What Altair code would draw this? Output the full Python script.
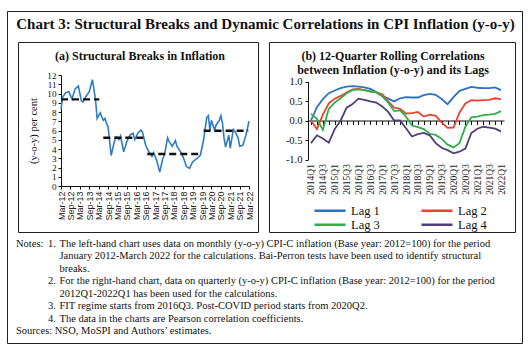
import altair as alt
import pandas as pd

SERIF = "Liberation Serif"
SANS = "Liberation Sans"

# ---------------- Panel (a): monthly CPI-C inflation (y-o-y, per cent) ----------------
infl_month = [
    "2012/03/01", "2012/04/01", "2012/06/01", "2012/08/01", "2012/10/01", "2012/12/01",
    "2013/02/01", "2013/04/01", "2013/05/01", "2013/07/01", "2013/09/01", "2013/11/01",
    "2014/01/01", "2014/02/01", "2014/04/01", "2014/06/01", "2014/07/01", "2014/08/01",
    "2014/09/01", "2014/11/01", "2015/01/01", "2015/02/01", "2015/04/01", "2015/05/01",
    "2015/07/01", "2015/09/01", "2015/11/01", "2016/01/01", "2016/02/01", "2016/04/01",
    "2016/06/01", "2016/07/01", "2016/09/01", "2016/11/01", "2017/01/01", "2017/02/01",
    "2017/04/01", "2017/06/01", "2017/08/01", "2017/09/01", "2017/11/01", "2017/12/01",
    "2018/02/01", "2018/04/01", "2018/05/01", "2018/08/01", "2018/09/01", "2018/11/01",
    "2019/01/01", "2019/03/01", "2019/06/01", "2019/08/01", "2019/10/01", "2019/12/01",
    "2020/01/01", "2020/02/01", "2020/03/01", "2020/05/01", "2020/06/01", "2020/08/01",
    "2020/09/01", "2020/10/01", "2020/11/01", "2020/12/01", "2021/02/01", "2021/03/01",
    "2021/05/01", "2021/06/01", "2021/08/01", "2021/09/01", "2021/11/01", "2022/01/01",
    "2022/03/01",
]
infl_value = [
    8.3, 9.6, 10.1, 10.2, 9.4, 10.5,
    10.8, 9.2, 9.1, 9.7, 10.2, 11.5,
    9.3, 7.3, 7.9, 7.1, 7.3, 6.8,
    6.4, 3.3, 4.8, 5.3, 5.0, 5.4,
    3.7, 4.8, 5.5, 5.7, 5.0, 5.7,
    6.05, 5.8, 4.4, 3.7, 3.2, 3.6,
    2.8, 1.5, 3.0, 3.35, 5.2, 4.8,
    4.3, 4.9, 4.3, 3.5, 3.1, 2.1,
    1.9, 2.6, 3.0, 3.35, 5.0, 7.4,
    7.6, 6.05, 7.1, 6.05, 6.6, 7.1,
    7.6, 6.8, 5.2, 4.2, 5.5, 4.1,
    6.1, 5.9, 5.2, 4.3, 4.4, 5.5,
    7.0,
]
break_start = ["2012/03/01", "2014/06/01", "2016/10/01", "2019/10/01"]
break_end = ["2014/03/15", "2016/09/01", "2019/09/01", "2022/02/15"]
break_level = [9.37, 5.22, 3.46, 5.98]
tick_months = [
    "2012/03", "2012/09", "2013/03", "2013/09", "2014/03", "2014/09", "2015/03",
    "2015/09", "2016/03", "2016/09", "2017/03", "2017/09", "2018/03", "2018/09",
    "2019/03", "2019/09", "2020/03", "2020/09", "2021/03", "2021/09", "2022/03",
]
y_a_ticks = [0, 1, 2, 3, 4, 5, 6, 7, 8, 9, 10, 11, 12]

# ---------------- Panel (b): 12-quarter rolling correlations ----------------
quarters = [
    "2014Q1", "2014Q2", "2014Q3", "2014Q4", "2015Q1", "2015Q2", "2015Q3", "2015Q4",
    "2016Q1", "2016Q2", "2016Q3", "2016Q4", "2017Q1", "2017Q2", "2017Q3", "2017Q4",
    "2018Q1", "2018Q2", "2018Q3", "2018Q4", "2019Q1", "2019Q2", "2019Q3", "2019Q4",
    "2020Q1", "2020Q2", "2020Q3", "2020Q4", "2021Q1", "2021Q2", "2021Q3", "2021Q4",
    "2022Q1",
]
quarter_labels = [
    "2014Q1", "2014Q3", "2015Q1", "2015Q3", "2016Q1", "2016Q3", "2017Q1", "2017Q3",
    "2018Q1", "2018Q3", "2019Q1", "2019Q3", "2020Q1", "2020Q3", "2021Q1", "2021Q3",
    "2022Q1",
]
lag1 = [0.00, 0.34, 0.55, 0.70, 0.77, 0.83, 0.87, 0.88, 0.87, 0.85, 0.81, 0.73, 0.63,
        0.56, 0.49, 0.57, 0.60, 0.59, 0.59, 0.65, 0.68, 0.66, 0.55, 0.42, 0.60, 0.76,
        0.81, 0.86, 0.84, 0.83, 0.83, 0.85, 0.78]
lag2 = [0.00, -0.22, 0.15, 0.44, 0.56, 0.63, 0.72, 0.80, 0.81, 0.78, 0.74, 0.72, 0.67,
        0.49, 0.33, 0.30, 0.18, 0.19, 0.22, 0.10, 0.15, 0.12, -0.05, -0.19, -0.18, 0.20,
        0.44, 0.52, 0.51, 0.52, 0.53, 0.57, 0.55]
lag3 = [0.17, 0.04, -0.24, 0.30, 0.46, 0.57, 0.70, 0.78, 0.80, 0.78, 0.75, 0.72, 0.62,
        0.46, 0.24, 0.26, 0.10, -0.13, -0.17, -0.22, -0.34, -0.37, -0.47, -0.62, -0.69,
        -0.58, -0.16, 0.08, 0.10, 0.14, 0.15, 0.17, 0.24]
lag4 = [-0.58, -0.38, -0.46, -0.57, -0.22, 0.00, 0.33, 0.42, 0.56, 0.53, 0.49, 0.46,
        0.36, 0.22, 0.00, 0.00, -0.20, -0.41, -0.35, -0.32, -0.38, -0.58, -0.70, -0.76,
        -0.84, -0.80, -0.72, -0.32, -0.21, -0.16, -0.18, -0.21, -0.28]
lag_names = ["Lag 1", "Lag 2", "Lag 3", "Lag 4"]
lag_colors = ["#2A73C5", "#EE4130", "#2EB04B", "#4F3F78"]
y_b_ticks = [-1.0, -0.5, 0.0, 0.5, 1.0]

# ---------------- Texts ----------------
main_title = "Chart 3: Structural Breaks and Dynamic Correlations in CPI Inflation (y-o-y)"
title_a = "(a) Structural Breaks in Inflation"
title_b1 = "(b) 12-Quarter Rolling Correlations"
title_b2 = "between Inflation (y-o-y) and its Lags"
y_a_title = "(y-o-y)  per cent"
note_heads = ["Notes:", "", "", "", "", "", "", "Sources: NSO, MoSPI and Authors\u2019 estimates."]
note_nums = ["1.", "", "", "2.", "", "3.", "4.", ""]
note_body = [
    "The left-hand chart uses data on monthly (y-o-y) CPI-C inflation (Base year: 2012=100) for the period",
    "January 2012-March 2022 for the calculations. Bai-Perron tests have been used to identify structural",
    "breaks.",
    "For the right-hand chart, data on quarterly (y-o-y) CPI-C inflation (Base year: 2012=100) for the period",
    "2012Q1-2022Q1 has been used for the calculations.",
    "FIT regime starts from 2016Q3. Post-COVID period starts from 2020Q2.",
    "The data in the charts are Pearson correlation coefficients.",
    "",
]

W, H = 531, 352


def dt(s):
    return alt.DateTime(year=int(s[:4]), month=int(s[5:7]), date=1)


one = alt.Data(values=[{}])

# ---------------- decorations (frames) ----------------
def frame(x1, x2, y1, y2):
    return alt.Chart(one).mark_rect(fillOpacity=0, stroke="#222222", strokeWidth=1).encode(
        x=alt.value(x1), x2=alt.value(x2), y=alt.value(y1), y2=alt.value(y2)
    )


frames = alt.layer(
    frame(7.5, 522.5, 11.5, 343.5),
    frame(18.5, 258.5, 42.5, 232.5),
    frame(269.5, 515.5, 42.5, 232.5),
)


def label(text, x, y, size, weight="normal", align="center"):
    return alt.Chart(one).mark_text(
        font=SERIF, fontSize=size, fontWeight=weight, align=align, baseline="middle", color="#111111"
    ).encode(x=alt.value(x), y=alt.value(y), text=alt.value(text))


titles = alt.layer(
    label(main_title, 265.5, 24, 15, "bold"),
    label(title_a, 140, 56, 12, "bold"),
    label(title_b1, 393, 56, 12, "bold"),
    label(title_b2, 393, 69.5, 12, "bold"),
)

# ---------------- notes ----------------
notes_df = pd.DataFrame({"row": list(range(len(note_body))), "head": note_heads,
                         "num": note_nums, "body": note_body})
row_y = alt.Y("row:Q", scale=alt.Scale(domain=[0, len(note_body) - 1], range=[244, 331]), axis=None)


def note_col(field, x):
    return alt.Chart(notes_df).mark_text(
        font=SERIF, fontSize=10.5, align="left", baseline="middle", color="#111111"
    ).encode(x=alt.value(x), y=row_y, text=f"{field}:N")


notes = alt.layer(note_col("head", 16), note_col("num", 48), note_col("body", 59.5))

# ---------------- panel (a) ----------------
df_a = pd.DataFrame({"month": infl_month, "value": infl_value})
df_breaks = pd.DataFrame({"start": break_start, "end": break_end, "level": break_level})


def x_a_scale():
    return alt.Scale(domain=[dt("2012/03"), dt("2022/03")], range=[61, 249])


def y_a_scale():
    return alt.Scale(domain=[0, 12], range=[186, 75], nice=False, zero=False)


line_a = alt.Chart(df_a).mark_line(color="#2F7CC6", strokeWidth=1.6).encode(
    x=alt.X("month:T", scale=x_a_scale(), axis=alt.Axis(
        orient="bottom", offset=186 - H, values=[dt(s) for s in tick_months], format="%b-%y",
        labelAngle=270, labelFont=SANS, labelFontSize=9, labelColor="#222222", labelPadding=2,
        labelOverlap=False, labelFlush=False, labelSeparation=0, tickSize=3, tickColor="#111111",
        domainColor="#111111", grid=False, title=None)),
    y=alt.Y("value:Q", scale=y_a_scale(), axis=alt.Axis(
        orient="left", offset=-61, values=y_a_ticks, labelFont=SERIF, labelFontSize=9.2,
        labelColor="#111111", labelPadding=2, tickSize=3, tickColor="#111111",
        domainColor="#111111", grid=False, title=y_a_title, titleFont=SERIF,
        titleFontSize=10.5, titleFontWeight="normal", titleColor="#111111", titlePadding=8,
        labelOverlap=False, labelFlush=False)),
)
dash_a = alt.Chart(df_breaks).mark_rule(color="#111111", strokeWidth=2.4, strokeDash=[7, 4]).encode(
    x=alt.X("start:T", scale=x_a_scale(), axis=None),
    x2="end:T",
    y=alt.Y("level:Q", scale=y_a_scale(), axis=None),
)

# ---------------- panel (b) ----------------
rows = []
for name, vals in zip(lag_names, [lag1, lag2, lag3, lag4]):
    for q, v in zip(quarters, vals):
        rows.append({"quarter": q, "lag": name, "corr": v})
df_b = pd.DataFrame(rows)


def x_b_scale():
    return alt.Scale(type="point", domain=quarters, range=[308, 504], padding=0.5)


y_b_scale = alt.Scale(domain=[-1, 1], range=[159.5, 81.5], nice=False, zero=False)

lines_b = alt.Chart(df_b).mark_line(strokeWidth=1.8).encode(
    x=alt.X("quarter:O", sort=quarters, scale=x_b_scale(), axis=alt.Axis(
        orient="bottom", offset=159.5 - H, values=quarter_labels, labelAngle=270,
        domain=False, ticks=False, labelFont=SERIF, labelFontSize=9.5, labelColor="#222222",
        labelPadding=4, labelOverlap=False, grid=False, title=None)),
    y=alt.Y("corr:Q", scale=y_b_scale, axis=alt.Axis(
        orient="left", offset=-308, values=y_b_ticks, format=".1f",
        labelExpr="replace(datum.label, '\u2212', '-')",
        labelFont=SERIF, labelFontSize=10.5, labelColor="#111111", labelPadding=3,
        tickSize=3, tickColor="#111111", domainColor="#111111", grid=False, title=None,
        labelOverlap=False, labelFlush=False)),
    color=alt.Color("lag:N", scale=alt.Scale(domain=lag_names, range=lag_colors), legend=alt.Legend(
        orient="none", legendX=313, legendY=204.5, direction="horizontal", columns=2, title=None,
        symbolType="stroke", symbolSize=961, symbolStrokeWidth=2.6, labelFont=SERIF,
        labelFontSize=12.5, labelColor="#111111", labelOffset=4, columnPadding=40,
        clipHeight=12, rowPadding=1.3, padding=0)),
    detail="lag:N",
)

zero_b = alt.Chart(pd.DataFrame({"quarter": quarters})).mark_point(opacity=0).encode(
    x=alt.X("quarter:O", sort=quarters, scale=x_b_scale(), axis=alt.Axis(
        orient="bottom", offset=120.5 - H, labels=False, ticks=True, domain=True, tickSize=4,
        tickColor="#111111", domainColor="#111111", grid=False, title=None)),
)

chart = alt.layer(frames, titles, notes, line_a, dash_a, lines_b, zero_b).resolve_scale(
    x="independent", y="independent", color="independent"
).properties(
    width=W, height=H, padding=0, autosize=alt.AutoSizeParams(type="none"), background="white"
).configure_view(strokeWidth=0)

chart.save("out.html", embed_options={"renderer": "svg", "actions": False})
